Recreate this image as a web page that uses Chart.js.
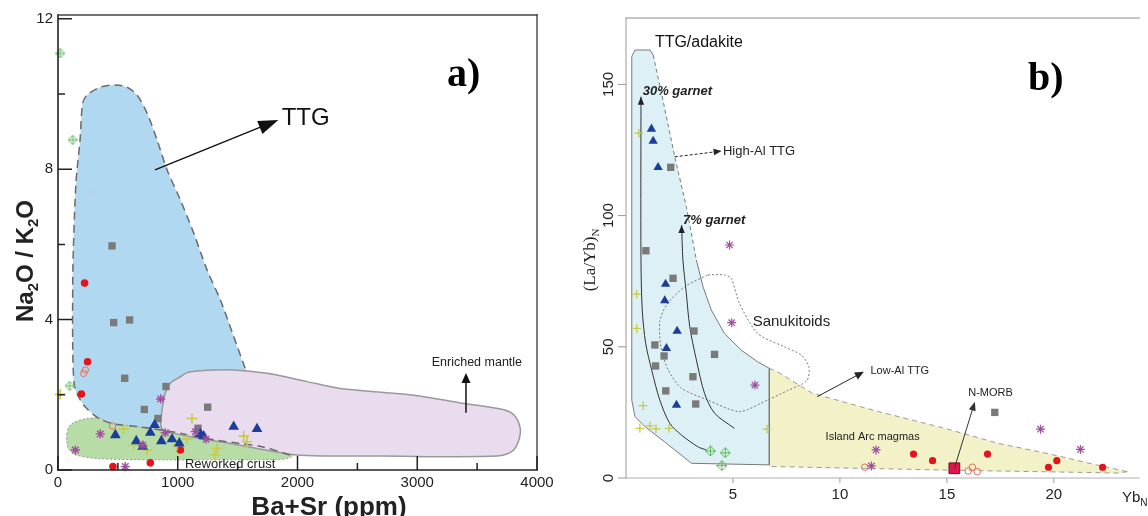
<!DOCTYPE html>
<html>
<head>
<meta charset="utf-8">
<script src="https://cdn.jsdelivr.net/npm/chart.js@4.4.1/dist/chart.umd.min.js"></script>
<style>
  html, body { margin: 0; padding: 0; background: #fff; }
  #wrap { position: relative; width: 1148px; height: 516px; overflow: hidden; background: #fff; }
  #ca { position: absolute; left: 0; top: 0; }
  #cb { position: absolute; left: 560px; top: 0; }
</style>
</head>
<body>
<div id="wrap">
  <canvas id="ca" width="560" height="516"></canvas>
  <canvas id="cb" width="588" height="516"></canvas>
</div>
<script>
// ===== a) Na2O/K2O versus Ba+Sr (ppm) =====
const aXTicks = [0, 1000, 2000, 3000, 4000];
const aXMinor = [500, 1500, 2500, 3500];
const aYTicks = [0, 4, 8, 12];
const aYMinor = [2, 6, 10];

const aTriangles = [[807,1.20],[771,0.99],[479,0.93],[654,0.77],[863,0.77],[952,0.82],[1013,0.71],[707,0.62],[1189,0.96],[1216,0.90],[1467,1.15],[1662,1.09]];
const aSquares   = [[451,5.96],[465,3.92],[598,3.99],[557,2.44],[902,2.22],[721,1.61],[1250,1.67],[835,1.37],[1169,1.11]];
const aRedDots   = [[222,4.97],[247,2.88],[195,2.02],[1022,0.53],[771,0.19],[459,0.09]];
const aOpenDots  = [[214,2.57],[228,2.66],[456,1.17]];
const aPaleDots  = [[297,7.4]];
const aCrosses   = [[19,2.01],[1119,1.37],[548,1.09],[1078,0.82],[743,0.53],[632,0.66],[994,0.66],[1551,0.90],[1579,0.75],[1328,0.58],[1308,0.40]];
const aStars     = [[857,1.89],[353,0.96],[145,0.53],[896,0.99],[1147,1.02],[1236,0.82],[707,0.66],[562,0.09]];
const aDiamonds  = [[19,11.08],[122,8.78],[97,2.24]];

// field outlines (Ba+Sr, Na2O/K2O)
const aTTGEdge = [[1937,0.40],[1701,0.62],[1506,0.71],[1228,0.84],[950,1.02],[671,1.15],[448,1.24],[337,1.38],[226,1.68],[157,2.04],[134,2.31],[123,3.19],[123,4.97],[128,5.85],[150,7.63],[184,8.78],[206,9.75],[242,9.97],[353,10.18],[479,10.24],[576,10.18],[660,9.97],[744,9.49],[827,8.78],[911,7.98],[1022,7.18],[1133,6.30],[1245,5.32],[1356,4.52],[1467,3.55],[1563,2.70]];
const aTTGHidden = [[1750,1.5],[1937,0.40]];
const aMantle = [[1022,2.48],[938,2.31],[896,2.04],[869,1.60],[860,1.15],[911,1.02],[1186,0.84],[1465,0.69],[1937,0.42],[2135,0.38],[2693,0.37],[3667,0.37],[3806,0.53],[3862,1.02],[3820,1.42],[3723,1.60],[3388,1.77],[2971,1.99],[2358,2.17],[2080,2.35],[1746,2.57],[1467,2.66],[1189,2.64],[1078,2.59],[1022,2.48]];
const aCrust = [[73,0.95],[90,1.15],[142,1.28],[230,1.36],[337,1.38],[448,1.24],[671,1.15],[950,1.02],[1228,0.84],[1506,0.71],[1701,0.62],[1900,0.52],[1975,0.45],[1940,0.33],[1850,0.28],[1467,0.27],[911,0.27],[353,0.30],[150,0.40],[90,0.55],[73,0.75],[73,0.95]];

// ===== b) (La/Yb)N versus YbN =====
const bXTicks = [5, 10, 15, 20];
const bYTicks = [0, 50, 100, 150];

const bTriangles = [[1.19,133.0],[1.27,128.4],[1.50,118.4],[1.85,73.9],[1.81,67.6],[2.39,56.0],[1.89,49.4],[2.36,27.8]];
const bSquares   = [[2.09,118.4],[0.93,86.6],[2.20,76.1],[3.18,56.0],[1.35,50.7],[1.78,46.5],[1.38,42.7],[4.14,47.1],[3.13,38.6],[1.86,33.2],[3.26,28.2],[17.24,25.0]];
const bCrosses   = [[0.60,131.4],[0.50,70.1],[0.50,57.0],[0.80,27.6],[0.65,18.9],[1.12,19.9],[1.40,18.7],[2.01,18.9],[6.59,18.6]];
const bDiamonds  = [[3.95,10.3],[4.64,9.6],[4.48,4.7]];
const bStars     = [[4.84,88.8],[4.94,59.2],[6.03,35.4],[11.69,10.7],[11.47,4.6],[19.38,18.6],[21.24,10.9]];
const bRedDots   = [[13.44,9.1],[14.33,6.6],[16.90,9.1],[19.75,4.1],[20.14,6.6],[22.28,4.1]];
const bOpenDots  = [[11.16,4.1],[16.00,2.7],[16.19,4.1],[16.42,2.4]];
const bNMORB     = [[15.35,3.7]];

const bTTGUpper = [[1.27,161.2],[1.66,146.6],[2.28,122.4],[2.82,103.4],[3.29,83.1]];
const bTTGLower = [[3.29,83.1],[3.60,72.9],[3.99,64.0],[4.60,55.1],[5.38,48.8],[6.15,44.3],[6.70,41.8],[6.70,5.0],[3.06,5.6],[2.28,10.7],[1.50,15.7],[0.88,19.6],[0.42,23.4],[0.27,29.7],[0.27,160.6],[0.42,163.1],[1.12,163.1],[1.27,161.2]];
const bArcTop = [[6.70,41.8],[7.16,40.1],[8.71,32.3],[11.81,25.3],[14.92,18.9],[17.40,13.2],[19.72,9.3],[22.0,5.0],[23.44,2.4]];
const bArcBottom = [[23.44,2.4],[23.0,1.9],[15.0,3.0],[6.70,4.4]];
const bSanukitoid = [[3.83,77.4],[4.60,77.4],[4.92,76.1],[5.30,66.6],[6.15,55.1],[7.40,50.0],[8.20,46.8],[8.56,42.0],[8.45,37.0],[7.60,33.5],[6.62,29.7],[5.30,25.3],[3.83,29.7],[2.59,34.2],[1.97,41.2],[1.63,50.0],[1.58,59.6],[1.89,65.9],[2.74,72.9],[3.83,77.4]];
const bGarnet30 = [[0.70,145.3],[0.70,83.1],[0.76,64.0],[0.92,51.3],[1.20,41.2],[1.58,29.7],[2.05,20.8],[2.59,16.4],[3.36,11.9],[3.75,10.7]];
const bGarnet7  = [[2.60,96.4],[2.66,83.1],[2.82,70.4],[2.98,57.7],[3.29,45.0],[3.67,32.3],[4.14,24.7],[5.07,18.9]];

// ---------- helpers ----------
const SANS = '"Liberation Sans", Arial, Helvetica, sans-serif';
const SERIF = '"Liberation Serif", "Times New Roman", serif';
Chart.defaults.font.family = SANS;
Chart.defaults.color = '#222';

const pts = a => a.map(([x, y]) => ({ x, y }));

function makeDiamond(s, color) {
  const c = document.createElement('canvas');
  c.width = s; c.height = s;
  const g = c.getContext('2d');
  const h = s / 2;
  g.strokeStyle = color; g.lineWidth = 1;
  g.beginPath(); g.moveTo(h, 0.5); g.lineTo(s - 0.5, h); g.lineTo(h, s - 0.5); g.lineTo(0.5, h); g.closePath(); g.stroke();
  g.beginPath(); g.moveTo(h, 0.5); g.lineTo(h, s - 0.5); g.moveTo(0.5, h); g.lineTo(s - 0.5, h); g.stroke();
  return c;
}

function area(data, fillColor, order, tension) {
  return { type: 'line', data: pts(data), fill: 'shape', backgroundColor: fillColor,
           borderWidth: 0, borderColor: 'rgba(0,0,0,0)', pointRadius: 0, tension: tension || 0, order };
}
function outline(data, color, width, dash, order, tension) {
  return { type: 'line', data: pts(data), fill: false, borderColor: color, borderWidth: width,
           borderDash: dash || [], pointRadius: 0, tension: tension || 0, order };
}
function marks(data, style, r, fillColor, strokeColor, bw, order) {
  return { type: 'scatter', data: pts(data), pointStyle: style, pointRadius: r, pointHoverRadius: r,
           backgroundColor: fillColor, borderColor: strokeColor, borderWidth: bw, clip: false, order: order || 0 };
}

function arrowHead(ctx, x0, y0, x1, y1, len, half, color) {
  const a = Math.atan2(y1 - y0, x1 - x0);
  const bx = x1 - len * Math.cos(a), by = y1 - len * Math.sin(a);
  ctx.save();
  ctx.fillStyle = color;
  ctx.beginPath();
  ctx.moveTo(x1, y1);
  ctx.lineTo(bx + half * Math.sin(a), by - half * Math.cos(a));
  ctx.lineTo(bx - half * Math.sin(a), by + half * Math.cos(a));
  ctx.closePath();
  ctx.fill();
  ctx.restore();
}

// text with subscripts: parts = [[text, isSub], ...]
function richText(ctx, parts, x, y, font, subFont, subShift, color, align, rot) {
  ctx.save();
  ctx.translate(x, y);
  if (rot) ctx.rotate(rot);
  ctx.fillStyle = color;
  ctx.textBaseline = 'alphabetic';
  let w = 0;
  for (const [t, s] of parts) { ctx.font = s ? subFont : font; w += ctx.measureText(t).width; }
  let cx = align === 'center' ? -w / 2 : (align === 'right' ? -w : 0);
  for (const [t, s] of parts) {
    ctx.font = s ? subFont : font;
    ctx.fillText(t, cx, s ? subShift : 0);
    cx += ctx.measureText(t).width;
  }
  ctx.restore();
}

// frame, inward/outward ticks, annotations and axis titles
function decor(cfg) {
  return {
    id: 'decor' + cfg.name,
    afterDatasetsDraw(chart) {
      const ctx = chart.ctx, xs = chart.scales.x, ys = chart.scales.y;
      for (const ar of cfg.arrows || []) {
        const x0 = xs.getPixelForValue(ar.from[0]), y0 = ys.getPixelForValue(ar.from[1]);
        const x1 = xs.getPixelForValue(ar.to[0]), y1 = ys.getPixelForValue(ar.to[1]);
        if (ar.line !== false) {
          const a = Math.atan2(y1 - y0, x1 - x0);
          ctx.save();
          ctx.strokeStyle = ar.color; ctx.lineWidth = ar.width;
          ctx.setLineDash(ar.dash || []);
          ctx.beginPath(); ctx.moveTo(x0, y0);
          ctx.lineTo(x1 - ar.len * 0.7 * Math.cos(a), y1 - ar.len * 0.7 * Math.sin(a));
          ctx.stroke();
          ctx.restore();
        }
        arrowHead(ctx, x0, y0, x1, y1, ar.len, ar.half, ar.color);
      }
      for (const t of cfg.texts || []) {
        ctx.save();
        ctx.font = t.font; ctx.fillStyle = t.color || '#222';
        ctx.textAlign = t.align || 'left';
        ctx.textBaseline = t.baseline || 'middle';
        ctx.fillText(t.text, xs.getPixelForValue(t.at[0]), ys.getPixelForValue(t.at[1]));
        ctx.restore();
      }
    },
    afterDraw(chart) {
      const ctx = chart.ctx, xs = chart.scales.x, ys = chart.scales.y;
      const A = chart.chartArea;
      const f = cfg.frame;
      ctx.save();
      ctx.lineCap = 'square';
      for (const side of f.sides) {
        ctx.strokeStyle = side.color; ctx.lineWidth = side.width;
        ctx.beginPath();
        if (side.at === 'left')   { ctx.moveTo(A.left, A.top);  ctx.lineTo(A.left, A.bottom); }
        if (side.at === 'right')  { ctx.moveTo(A.right, A.top); ctx.lineTo(A.right, A.bottom); }
        if (side.at === 'top')    { ctx.moveTo(A.left, A.top);  ctx.lineTo(A.right, A.top); }
        if (side.at === 'bottom') { ctx.moveTo(A.left, A.bottom); ctx.lineTo(A.right, A.bottom); }
        ctx.stroke();
      }
      ctx.lineCap = 'butt';
      for (const tk of cfg.ticks || []) {
        ctx.strokeStyle = tk.color; ctx.lineWidth = tk.width;
        ctx.beginPath();
        for (const v of tk.values) {
          if (tk.axis === 'x') {
            const px = xs.getPixelForValue(v);
            const d = tk.dir === 'in' ? -tk.len : tk.len;
            ctx.moveTo(px, A.bottom); ctx.lineTo(px, A.bottom + d);
          } else {
            const py = ys.getPixelForValue(v);
            const d = tk.dir === 'in' ? tk.len : -tk.len;
            ctx.moveTo(A.left, py); ctx.lineTo(A.left + d, py);
          }
        }
        ctx.stroke();
      }
      if (cfg.yLabels) {
        const L = cfg.yLabels;
        ctx.font = L.font; ctx.fillStyle = '#222';
        ctx.textAlign = 'center'; ctx.textBaseline = 'middle';
        for (const v of L.values) {
          ctx.save();
          ctx.translate(A.left - L.offset, ys.getPixelForValue(v));
          ctx.rotate(-Math.PI / 2);
          ctx.fillText(String(v), 0, 0);
          ctx.restore();
        }
      }
      ctx.restore();
      for (const t of cfg.titles || []) {
        richText(ctx, t.parts, t.x, t.y, t.font, t.subFont, t.subShift, t.color || '#222', t.align, t.rot);
      }
    }
  };
}

function axisBase(min, max, tickValues, labelCb, fontSize, padding, display) {
  return {
    type: 'linear', min, max,
    afterBuildTicks: s => { s.ticks = tickValues.map(v => ({ value: v })); },
    grid: { display: false, drawTicks: false },
    border: { display: false },
    ticks: { display, font: { size: fontSize }, color: '#222', padding, callback: labelCb, autoSkip: false, maxRotation: 0 }
  };
}

// ---------- chart a ----------
const diamondA = makeDiamond(10, '#5cb85c');
const diamondB = makeDiamond(11, '#5cb85c');

const xA = axisBase(0, 4000, aXTicks, v => String(v), 15, 4, true);
xA.afterFit = s => { s.height = 46; };
const yA = axisBase(0, 12.1, aYTicks, v => String(v), 15, 5, true);
yA.afterFit = s => { s.width = 58; };

new Chart(document.getElementById('ca'), {
  type: 'scatter',
  data: {
    datasets: [
      area(aTTGEdge.concat(aTTGHidden.slice(0, 1), [aTTGEdge[0]]), '#b1d8f1', 20, 0.3),
      area(aCrust, '#b7dca6', 19, 0.3),
      outline(aCrust, '#9a9a9a', 1, [2, 2], 18, 0.3),
      area(aMantle, '#e8dcee', 17, 0.3),
      outline(aMantle, '#999', 1.5, [], 16, 0.3),
      outline(aTTGEdge, '#6a6a6a', 1.5, [8, 5], 15, 0.3),
      marks(aSquares, 'rect', 5.2, '#7a7a7a', '#7a7a7a', 0, 5),
      marks(aRedDots, 'circle', 3.8, '#e3141b', '#e3141b', 0, 4),
      marks(aOpenDots, 'circle', 3.2, 'rgba(255,255,255,0)', '#e0705e', 1, 4),
      marks(aPaleDots, 'circle', 2.5, 'rgba(255,255,255,0)', '#c8c8c8', 1, 4),
      marks(aDiamonds, diamondA, 5, '#5cb85c', '#5cb85c', 1, 4),
      marks(aCrosses, 'cross', 5.2, '#c9c94a', '#c9c94a', 1.6, 3),
      marks(aTriangles, 'triangle', 6.2, '#1d3e98', '#1d3e98', 0, 2),
      marks(aStars, 'star', 4.6, '#a04ea0', '#a04ea0', 1.4, 1)
    ]
  },
  options: {
    responsive: false, animation: false, devicePixelRatio: 1,
    layout: { padding: { top: 15, right: 23, left: 0, bottom: 0 } },
    plugins: { legend: { display: false }, tooltip: { enabled: false } },
    scales: { x: xA, y: yA }
  },
  plugins: [decor({
    name: 'A',
    frame: { sides: [
      { at: 'left', color: '#222', width: 1.6 }, { at: 'bottom', color: '#222', width: 1.6 },
      { at: 'top', color: '#444', width: 1.4 }, { at: 'right', color: '#444', width: 1.4 } ] },
    ticks: [
      { axis: 'x', values: aXTicks, len: 14, dir: 'in', color: '#222', width: 1.5 },
      { axis: 'x', values: aXMinor, len: 7, dir: 'in', color: '#222', width: 1.5 },
      { axis: 'y', values: aYTicks, len: 14, dir: 'in', color: '#222', width: 1.5 },
      { axis: 'y', values: aYMinor, len: 7, dir: 'in', color: '#222', width: 1.5 }
    ],
    arrows: [
      { from: [810, 7.98], to: [1840, 9.31], len: 20, half: 7, color: '#111', width: 1.5 },
      { from: [3407, 1.52], to: [3407, 2.58], len: 10, half: 4.5, color: '#111', width: 1.5 }
    ],
    texts: [
      { text: 'TTG', at: [1868, 9.34], font: '24px ' + SANS, color: '#111' },
      { text: 'Enriched mantle', at: [3121, 2.85], font: '12.5px ' + SANS, color: '#222' },
      { text: 'Reworked crust', at: [1060, 0.16], font: '13px ' + SANS, color: '#222' },
      { text: 'a)', at: [3248, 10.2], font: 'bold 40px ' + SERIF, color: '#000', baseline: 'alphabetic' }
    ],
    titles: [
      { parts: [['Na', 0], ['2', 1], ['O / K', 0], ['2', 1], ['O', 0]], x: 33, y: 261,
        font: 'bold 24px ' + SANS, subFont: 'bold 15px ' + SANS, subShift: 5, align: 'center', rot: -Math.PI / 2 },
      { parts: [['Ba+Sr (ppm)', 0]], x: 329, y: 515, font: 'bold 26px ' + SANS, align: 'center' }
    ]
  })]
});

// ---------- chart b ----------
const xB = axisBase(0, 24, bXTicks, v => String(v), 15, 8, true);
xB.afterFit = s => { s.height = 38; };
const yB = axisBase(0, 175.3, bYTicks, v => String(v), 15, 5, false);
yB.afterFit = s => { s.width = 66; };

new Chart(document.getElementById('cb'), {
  type: 'scatter',
  data: {
    datasets: [
      area(bTTGUpper.concat(bTTGLower), '#dcf0f5', 20, 0),
      area(bArcTop.concat(bArcBottom), '#f2f1c8', 19, 0),
      outline(bTTGLower, '#7a7a7a', 1, [], 18, 0),
      outline(bTTGUpper, '#7a7a7a', 1, [4, 3], 18, 0),
      outline(bArcTop, '#9a9a9a', 1, [5, 4], 17, 0),
      outline(bArcBottom, '#9a9a9a', 1, [5, 4], 17, 0),
      outline(bSanukitoid, '#777', 1, [2, 2], 16, 0.25),
      outline(bGarnet30, '#333', 1, [], 15, 0.3),
      outline(bGarnet7, '#333', 1, [], 15, 0.3),
      marks(bSquares, 'rect', 5.2, '#7a7a7a', '#7a7a7a', 0, 5),
      marks(bRedDots, 'circle', 3.6, '#e3141b', '#e3141b', 0, 4),
      marks(bOpenDots, 'circle', 3.3, 'rgba(255,255,255,0)', '#e0705e', 1, 4),
      marks(bDiamonds, diamondB, 5, '#5cb85c', '#5cb85c', 1, 4),
      marks(bCrosses, 'cross', 4.4, '#c9c94a', '#c9c94a', 1.3, 3),
      marks(bTriangles, 'triangle', 5.4, '#1d3e98', '#1d3e98', 0, 2),
      marks(bStars, 'star', 4.5, '#a04ea0', '#a04ea0', 1.2, 1),
      marks(bNMORB, 'rect', 7.6, '#e0174a', '#7a0a20', 1, 0)
    ]
  },
  options: {
    responsive: false, animation: false, devicePixelRatio: 1,
    layout: { padding: { top: 18, right: 6, left: 0, bottom: 0 } },
    plugins: { legend: { display: false }, tooltip: { enabled: false } },
    scales: { x: xB, y: yB }
  },
  plugins: [decor({
    name: 'B',
    frame: { sides: [
      { at: 'left', color: '#9a9a9a', width: 1 }, { at: 'bottom', color: '#b0b0b0', width: 1 },
      { at: 'top', color: '#8a8a8a', width: 1 } ] },
    ticks: [
      { axis: 'x', values: bXTicks, len: 5, dir: 'out', color: '#9a9a9a', width: 1 },
      { axis: 'y', values: bYTicks, len: 8, dir: 'out', color: '#9a9a9a', width: 1 }
    ],
    yLabels: { values: bYTicks, font: '15px ' + SANS, offset: 17 },
    arrows: [
      { from: [0.70, 130], to: [0.70, 145.3], len: 8, half: 3.2, color: '#222', width: 1, line: false },
      { from: [2.60, 82], to: [2.60, 96.4], len: 8, half: 3.2, color: '#222', width: 1, line: false },
      { from: [2.28, 122.4], to: [4.47, 124.6], len: 8, half: 3.2, color: '#222', width: 1, dash: [3, 2] },
      { from: [8.94, 31.0], to: [11.12, 40.5], len: 9, half: 4, color: '#222', width: 1 },
      { from: [15.35, 3.7], to: [16.31, 29.1], len: 9, half: 3.5, color: '#333', width: 1 }
    ],
    texts: [
      { text: 'TTG/adakite', at: [1.35, 165.8], font: '16px ' + SANS, color: '#111' },
      { text: '30% garnet', at: [0.78, 147.2], font: 'italic bold 13px ' + SANS, color: '#222' },
      { text: '7% garnet', at: [2.67, 98.1], font: 'italic bold 13px ' + SANS, color: '#222' },
      { text: 'High-Al TTG', at: [4.53, 124.6], font: '13px ' + SANS, color: '#222' },
      { text: 'Sanukitoids', at: [5.92, 59.6], font: '15px ' + SANS, color: '#222' },
      { text: 'Low-Al TTG', at: [11.43, 40.9], font: '11px ' + SANS, color: '#222' },
      { text: 'Island Arc magmas', at: [9.33, 15.7], font: '11px ' + SANS, color: '#222' },
      { text: 'N-MORB', at: [16.0, 32.5], font: '11px ' + SANS, color: '#222' },
      { text: 'b)', at: [18.79, 147.9], font: 'bold 40px ' + SERIF, color: '#000', baseline: 'alphabetic' }
    ],
    titles: [
      { parts: [['(La/Yb)', 0], ['N', 1]], x: 35, y: 260, font: '17px ' + SERIF, subFont: '11px ' + SERIF,
        subShift: 4, align: 'center', rot: -Math.PI / 2 },
      { parts: [['Yb', 0], ['N', 1]], x: 562, y: 502, font: '15px ' + SANS, subFont: '10px ' + SANS,
        subShift: 4, align: 'left' }
    ]
  })]
});
</script>
</body>
</html>
